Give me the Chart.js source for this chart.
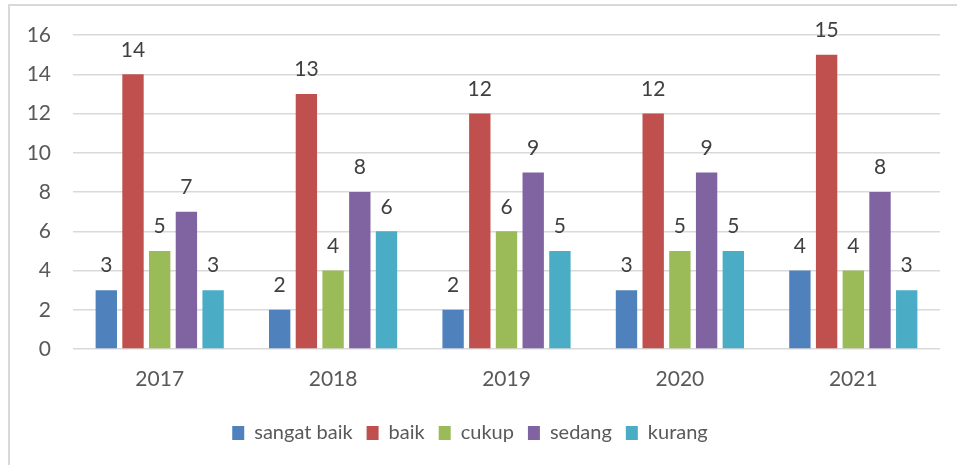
<!DOCTYPE html>
<html>
<head>
<meta charset="utf-8">
<script src="https://cdn.jsdelivr.net/npm/chart.js@4"></script>
<style>
  html, body { margin: 0; padding: 0; background: #fff; overflow: hidden; }
  #wrap { position: relative; width: 957px; height: 465px; }
  #frame { position: absolute; left: 8px; top: 4px; width: 960px; height: 480px; border: 2px solid #d9d9d9; box-sizing: border-box; }
  canvas { position: absolute; left: 0; top: 0; }
</style>
</head>
<body>
<div id="wrap">
  <div id="frame"></div>
  <canvas id="chart" width="957" height="465"></canvas>
</div>
<script>
const years = ['2017', '2018', '2019', '2020', '2021'];
const seriesNames = ['sangat baik', 'baik', 'cukup', 'sedang', 'kurang'];
const sangatBaik = [3, 2, 2, 3, 4];
const baik = [14, 13, 12, 12, 15];
const cukup = [5, 4, 6, 5, 4];
const sedang = [7, 8, 9, 9, 8];
const kurang = [3, 6, 5, 5, 3];
const yTicks = [0, 2, 4, 6, 8, 10, 12, 14, 16];
const colors = ['#4F81BD', '#C0504D', '#9BBB59', '#8064A2', '#4BACC6'];

const FONT = 'Lato, "Open Sans", sans-serif';
const TEXT = '#595959';

// labels above each bar
const barLabels = {
    id: 'barLabels',
    afterDatasetsDraw(chart) {
        const ctx = chart.ctx;
        ctx.save();
        ctx.font = '21px ' + FONT;
        ctx.fillStyle = '#404040';
        ctx.textAlign = 'center';
        ctx.textBaseline = 'bottom';
        chart.data.datasets.forEach((ds, i) => {
            chart.getDatasetMeta(i).data.forEach((bar, j) => {
                ctx.fillText(ds.data[j], bar.x, bar.y - 14);
            });
        });
        ctx.restore();
    }
};

const ctx = document.getElementById('chart').getContext('2d');
new Chart(ctx, {
    type: 'bar',
    data: {
        labels: years,
        datasets: [sangatBaik, baik, cukup, sedang, kurang].map((d, i) => ({
            label: seriesNames[i],
            data: d,
            backgroundColor: colors[i],
            categoryPercentage: 0.77,
            barPercentage: 0.8
        }))
    },
    options: {
        responsive: false,
        animation: false,
        devicePixelRatio: 1,
        layout: { padding: { top: 35, right: 17, left: 0, bottom: 12 } },
        plugins: {
            tooltip: { enabled: false },
            legend: {
                position: 'bottom',
                labels: {
                    font: { family: FONT, size: 20 },
                    color: TEXT,
                    boxWidth: 12,
                    boxHeight: 14,
                    padding: 14
                }
            }
        },
        scales: {
            x: {
                grid: { display: false },
                border: { display: false },
                ticks: { font: { family: FONT, size: 21 }, color: TEXT, padding: 10 },
                afterFit(axis) { axis.height = 60; }
            },
            y: {
                min: 0,
                max: 16,
                afterBuildTicks(axis) { axis.ticks = yTicks.map(v => ({ value: v })); },
                grid: { color: '#d9d9d9', lineWidth: 1.5, drawTicks: false },
                border: { display: false },
                ticks: { font: { family: FONT, size: 21 }, color: TEXT, padding: 22 },
                afterFit(axis) { axis.width = 73; }
            }
        }
    },
    plugins: [barLabels]
});
</script>
</body>
</html>
